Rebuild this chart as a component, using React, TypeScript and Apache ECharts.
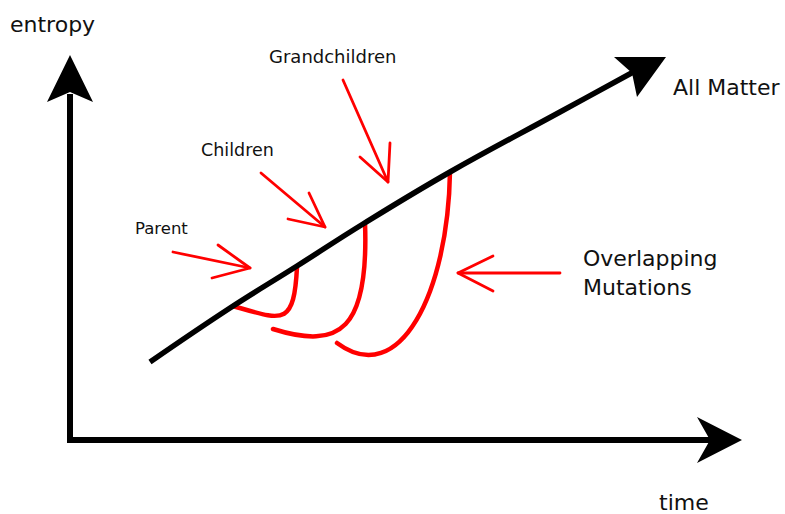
import React, { useEffect, useRef } from "react";
import * as echarts from "echarts";

// Drawing space: x 0..785 (left → right), y 0..514 (top → bottom)
const yAxisShaft = [[70, 443], [70, 94]];
const xAxisShaft = [[67, 440], [712, 440]];
const yAxisHead = [[70, 55], [93, 102], [70, 92], [47, 102]];
const xAxisHead = [[742, 440], [697, 463], [710, 440], [697, 417]];

const allMatterLine = [[150, 362], [230, 308], [297, 266], [363, 224], [450, 172], [560, 112], [637, 70]];
const allMatterHead = [[666, 57], [637, 97], [632, 73], [614, 57]];

// Cubic curves: start, control 1, control 2, end
const parentCurve = [[297, 267], [294, 328], [282, 320], [233, 306]];
const childrenCurve = [[365, 223], [369, 330], [340, 350], [273, 329]];
const grandchildrenCurve = [[450, 172], [448, 292], [400, 390], [337, 343]];

const parentArrow = [[173, 252], [250, 268]];
const parentArrowHead = [[218, 245], [250, 268], [212, 278]];
const childrenArrow = [[261, 173], [325, 227]];
const childrenArrowHead = [[309, 193], [325, 227], [288, 219]];
const grandchildrenArrow = [[343, 80], [388, 182]];
const grandchildrenArrowHead = [[390, 143], [388, 182], [360, 157]];
const mutationsArrow = [[560, 273], [458, 273]];
const mutationsArrowHead = [[493, 256], [458, 273], [493, 291]];

const labelTexts = ["entropy", "time", "All Matter", "Grandchildren", "Children", "Parent", "Overlapping", "Mutations"];
const labelPositions = [[10, 24], [659, 502], [673, 87], [269, 56], [201, 150], [135, 228], [583, 258], [583, 287]];
const labelSizes = [22, 22, 22, 18, 17.5, 16.5, 22, 22];

const blackHeads = [yAxisHead, xAxisHead, allMatterHead];
const redCurves = [parentCurve, childrenCurve, grandchildrenCurve];

function lineSeries(data: number[][], color: string, width: number, smooth: boolean | number, cap = "round") {
  return {
    type: "line",
    data,
    smooth,
    symbol: "none",
    silent: true,
    lineStyle: { color, width, cap, join: "round" },
  };
}

export default function App() {
  const ref = useRef<HTMLDivElement>(null);
  useEffect(() => {
    if (!ref.current) return;
    const chart = echarts.init(ref.current, undefined, { renderer: "svg" });
    const red = "#ff0000";
    chart.setOption({
      animation: false,
      backgroundColor: "#ffffff",
      grid: { left: 0, right: 0, top: 0, bottom: 0 },
      xAxis: { type: "value", min: 0, max: 785, show: false },
      yAxis: { type: "value", min: 0, max: 514, inverse: true, show: false },
      series: [
        lineSeries(yAxisShaft, "#000", 6, false, "butt"),
        lineSeries(xAxisShaft, "#000", 6, false, "butt"),
        lineSeries(allMatterLine, "#000", 5.5, 0.4, "butt"),
        {
          type: "custom",
          silent: true,
          data: redCurves.map((_, i) => [i, 0]),
          renderItem: (params: any, api: any) => {
            const c = redCurves[params.dataIndex].map((p) => api.coord(p));
            return {
              type: "bezierCurve",
              shape: {
                x1: c[0][0], y1: c[0][1],
                cpx1: c[1][0], cpy1: c[1][1],
                cpx2: c[2][0], cpy2: c[2][1],
                x2: c[3][0], y2: c[3][1],
              },
              style: { stroke: red, lineWidth: 4.5, fill: "none", lineCap: "round" },
            };
          },
        },
        lineSeries(parentArrow, red, 2.8, false),
        lineSeries(parentArrowHead, red, 2.8, false),
        lineSeries(childrenArrow, red, 2.8, false),
        lineSeries(childrenArrowHead, red, 2.8, false),
        lineSeries(grandchildrenArrow, red, 2.8, false),
        lineSeries(grandchildrenArrowHead, red, 2.8, false),
        lineSeries(mutationsArrow, red, 2.8, false),
        lineSeries(mutationsArrowHead, red, 2.8, false),
        {
          type: "custom",
          silent: true,
          data: blackHeads.map((_, i) => [i, 0]),
          renderItem: (params: any, api: any) => ({
            type: "polygon",
            shape: { points: blackHeads[params.dataIndex].map((p) => api.coord(p)) },
            style: { fill: "#000" },
          }),
        },
        {
          type: "custom",
          silent: true,
          data: labelTexts.map((_, i) => [i, 0]),
          renderItem: (params: any, api: any) => {
            const i = params.dataIndex;
            const pt = api.coord(labelPositions[i]);
            return {
              type: "text",
              x: pt[0],
              y: pt[1],
              style: {
                text: labelTexts[i],
                fill: "#111",
                font: `${labelSizes[i]}px "DejaVu Sans"`,
                align: "left",
                verticalAlign: "middle",
              },
            };
          },
        },
      ],
    });
    return () => chart.dispose();
  }, []);
  return (
    <div
      ref={ref}
      style={{ position: "fixed", left: 0, top: 0, width: 785, height: 514, background: "#fff" }}
    />
  );
}
